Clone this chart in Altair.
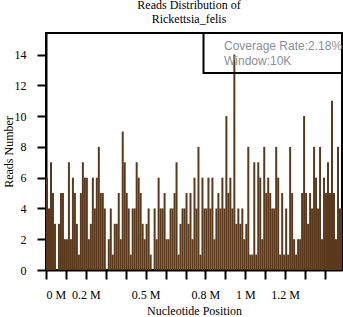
import altair as alt
import pandas as pd

# ---- data ----
window_size = 10000
genome_length = 1485148
reads = [
    6, 4, 7, 5, 3, 0, 3, 5, 5, 2, 2, 7, 2, 6, 5, 3, 1, 5, 7, 6, 6, 2, 3, 6, 4, 6,
    8, 5, 5, 4, 0, 2, 4, 1, 3, 3, 5, 2, 9, 7, 5, 4, 1, 4, 4, 7, 6, 5, 3, 2, 3, 4, 1, 0,
    4, 2, 6, 4, 4, 5, 2, 2, 4, 4, 5, 7, 1, 3, 4, 4, 5, 3, 5, 2, 6, 4,
    8, 1, 6, 4, 4, 6, 4, 6, 2, 4, 5, 4, 6, 4, 10, 5, 6, 4, 14, 3, 4, 3, 4,
    2, 3, 8, 1, 1, 7, 1, 7, 6, 2, 8, 5, 6, 5, 4, 4, 8, 6, 1, 5, 1, 4, 1, 8,
    5, 2, 1, 2, 2, 5, 10, 5, 3, 5, 4, 8, 6, 4, 8, 2, 6, 5, 7, 5, 11, 5, 2, 8, 4, 4,
]
title_lines = ["Reads Distribution of", "Rickettsia_felis"]
coverage_text = "Coverage Rate:2.18%"
window_text = "Window:10K"
x_tick_values = [i * 100000 for i in range(15)]
x_label_values = [0, 200000, 500000, 800000, 1000000, 1200000]
y_tick_values = [0, 2, 4, 6, 8, 10, 12, 14]
y_max = 15.4

starts = [i * window_size for i in range(len(reads))]
ends = [min(s + window_size, genome_length) for s in starts]
df = pd.DataFrame({"start": starts, "end": ends, "reads": reads})

label_list = ",".join(str(v) for v in x_label_values)
label_expr = (
    f"indexof([{label_list}], datum.value) >= 0 ? (datum.value / 1000000) + ' M' : ''"
)

bars = alt.Chart(df).mark_rect(color="#5a391c").encode(
    x=alt.X(
        "start:Q",
        scale=alt.Scale(domain=[0, genome_length], nice=False, zero=True),
        axis=alt.Axis(
            values=x_tick_values,
            labelExpr=label_expr,
            title="Nucleotide Position",
            labelPadding=10,
            titleY=40,
            titleBaseline="middle",
            labelOverlap=False,
        ),
    ),
    x2="end:Q",
    y=alt.Y(
        "reads:Q",
        scale=alt.Scale(domain=[0, y_max], nice=False),
        axis=alt.Axis(
            values=y_tick_values,
            title="Reads Number",
            labelPadding=11,
            titleX=-38,
            titleY=118.5,
            titleBaseline="middle",
        ),
    ),
    y2=alt.datum(0),
)

info = pd.DataFrame({"k": [0]})
box = alt.Chart(info).mark_rect(
    fill="transparent", stroke="black", strokeWidth=2
).encode(
    x=alt.value(157.5), x2=alt.value(297), y=alt.value(0), y2=alt.value(40)
)
text1 = alt.Chart(info).mark_text(
    align="left", baseline="middle", font="Liberation Sans", fontSize=12, color="#8a8f9c"
).encode(x=alt.value(178), y=alt.value(13), text=alt.value(coverage_text))
text2 = alt.Chart(info).mark_text(
    align="left", baseline="middle", font="Liberation Sans", fontSize=12, color="#8a8f9c"
).encode(x=alt.value(178), y=alt.value(27.7), text=alt.value(window_text))

chart = (
    alt.layer(bars, box, text1, text2)
    .properties(
        width=296,
        height=237,
        padding={"left": 46, "top": 33, "right": 1, "bottom": 47},
        autosize="none",
        title=alt.TitleParams(
            text=title_lines,
            font="Liberation Serif",
            fontSize=12,
            fontWeight="normal",
            color="black",
            anchor="middle",
            dx=-5,
            offset=6,
            lineHeight=14,
        ),
    )
    .configure_view(stroke="black", strokeWidth=2)
    .configure_axis(
        domainColor="black",
        domainWidth=2,
        tickColor="black",
        tickWidth=2,
        tickSize=9,
        grid=False,
        labelFont="Liberation Serif",
        labelFontSize=12,
        labelColor="black",
        titleFont="Liberation Serif",
        titleFontSize=12,
        titleFontWeight="normal",
        titleColor="black",
    )
)

chart.save("out.html", embed_options={"renderer": "svg", "actions": False})
